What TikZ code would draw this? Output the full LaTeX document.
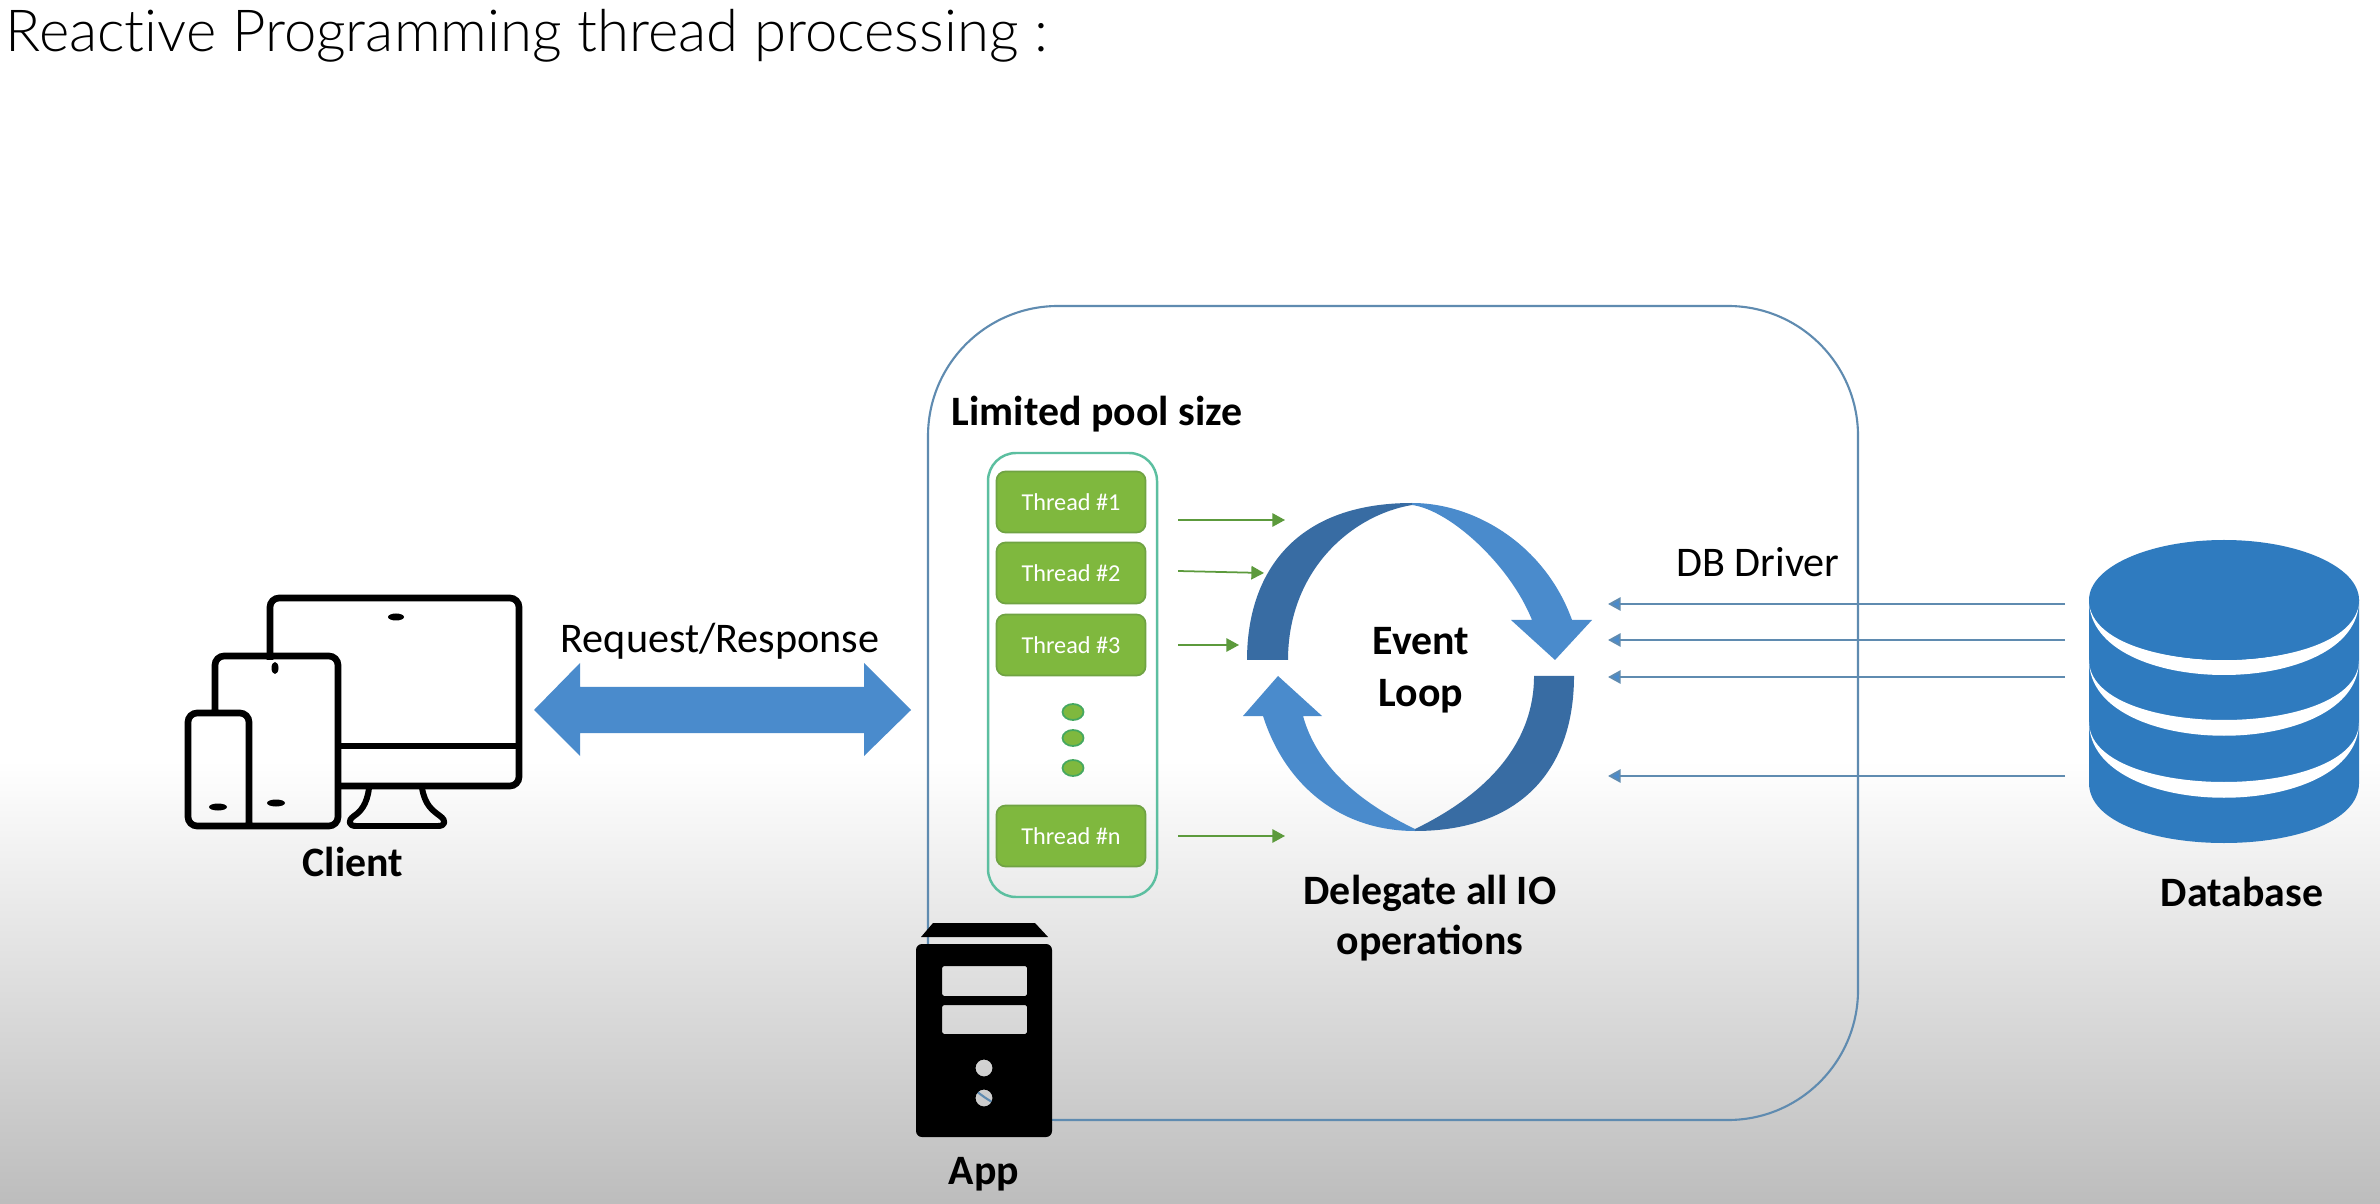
\documentclass[tikz,border=0pt]{standalone}
\usepackage{fontspec}
\setmainfont{Carlito}
\newfontfamily\headfont[Ligatures=NoCommon]{Lato Light}
\usepackage{xcolor}
\usetikzlibrary{arrows.meta}
\definecolor{boxline}{HTML}{5F8BB0}
\definecolor{arrowblue}{HTML}{4A8BCC}
\definecolor{darkblue}{HTML}{386CA3}
\definecolor{dbblue}{HTML}{2F7BBF}
\definecolor{threadgreen}{HTML}{7FB83E}
\definecolor{threadline}{HTML}{70A343}
\definecolor{poolline}{HTML}{5CBFA0}
\definecolor{dotline}{HTML}{45A860}
\definecolor{tipgreen}{HTML}{5C9A3C}
\tikzset{
  plainlabel/.style={font=\fontsize{12}{14}\selectfont, inner sep=0pt},
  boldlabel/.style={font=\fontsize{11.9}{14.3}\selectfont\bfseries, inner sep=0pt, align=center},
  threadbox/.style={draw=threadline, line width=0.5pt, fill=threadgreen, rounded corners=2.6pt, minimum width=1.49cm, minimum height=0.61cm, inner sep=0pt, text=white, font=\fontsize{6.9}{8}\selectfont},
  threaddot/.style={draw=dotline, line width=0.5pt, fill=threadgreen},
  greenarrow/.style={draw=tipgreen, line width=0.5pt, -{Triangle[length=3.6pt,width=3.8pt]}},
  bluearrow/.style={draw=boxline, line width=0.55pt, -{Triangle[length=3.6pt,width=3.8pt,fill=arrowblue]}},
  device/.style={draw=black, line width=1.9pt, rounded corners=2.6pt},
}
\begin{document}
\begin{tikzpicture}[x=0.01cm,y=-0.01cm]
\useasboundingbox (0,0) rectangle (2380,1204);
% background
\fill[white] (0,0) rectangle (2380,761);
\shade[top color=white, bottom color=black!26] (0,760) rectangle (2380,1204);
\node[font=\fontsize{16.5}{20}\selectfont\headfont, inner sep=0pt, anchor=west] (title) at (5,36) {Reactive Programming thread processing :};
% app box
\draw[draw=boxline, line width=0.6pt, rounded corners=1.3cm] (928,306) rectangle (1858,1120);
\node[boldlabel] (poollabel) at (1097,414) {Limited pool size};
% client
\draw[device] (270,660) -- (270,598) -- (519,598) -- (519,786) -- (338,786);
\draw[device, rounded corners=0pt] (338,746) -- (519,746);
\draw[device] (215,716) -- (215,656) -- (338,656) -- (338,826) -- (188,826) -- (188,713) -- (249,713) -- (249,826);
\draw[device, rounded corners=0pt, line width=1.7pt, line join=round] (369,788) .. controls (367,805) and (360,812) .. (354,816) .. controls (347,821) and (349,826) .. (356,826) -- (438,826) .. controls (445,826) and (447,821) .. (440,816) .. controls (432,810) and (425,805) .. (422,788);
\fill[black] (396,617) ellipse [x radius=8, y radius=3.5];
\fill[black] (275,668) ellipse [x radius=3.5, y radius=6];
\fill[black] (276,803) ellipse [x radius=9, y radius=3.5];
\fill[black] (218,807) ellipse [x radius=9, y radius=3.5];
\node[boldlabel] (client) at (353,862) {Client};
% request arrow
\fill[arrowblue] (534,710) -- (580,663) -- (580,687) -- (864,687) -- (864,663) -- (911,710) -- (864,756) -- (864,733) -- (580,733) -- (580,756) -- cycle;
\node[plainlabel] (reqlabel) at (720,641) {Request/Response};
% thread pool
\draw[draw=poolline, line width=0.7pt, rounded corners=0.28cm] (988,453) rectangle (1157,897);
\node[threadbox] (th1) at (1071,502) {Thread \#1};
\node[threadbox] (th2) at (1071,573) {Thread \#2};
\node[threadbox] (th3) at (1071,645) {Thread \#3};
\node[threadbox] (thn) at (1071,836) {Thread \#n};
\filldraw[threaddot] (1073,712) ellipse [x radius=10.5, y radius=8];
\filldraw[threaddot] (1073,738) ellipse [x radius=10.5, y radius=8];
\filldraw[threaddot] (1073,768) ellipse [x radius=10.5, y radius=8];
\coordinate (a1) at (1178,520);
\coordinate (b1) at (1285,520);
\coordinate (a2) at (1178,571);
\coordinate (b2) at (1264,573);
\coordinate (a3) at (1178,645);
\coordinate (b3) at (1239,645);
\coordinate (an) at (1178,836);
\coordinate (bn) at (1285,836);
\draw[greenarrow] (a1) -- (b1);
\draw[greenarrow] (a2) -- (b2);
\draw[greenarrow] (a3) -- (b3);
\draw[greenarrow] (an) -- (bn);
% event loop
\fill[darkblue] (1247,660) .. controls (1247,576) and (1292,503) .. (1412,503) -- (1412,505) .. controls (1352,515) and (1288,570) .. (1288,660) -- cycle;
\fill[arrowblue] (1412,503) .. controls (1475,503) and (1545,545) .. (1572,620) -- (1592,620) -- (1555,660) -- (1511,620) -- (1532,620) .. controls (1510,565) and (1450,510) .. (1412,505) -- cycle;
\fill[darkblue] (1574,676) .. controls (1574,770) and (1520,831) .. (1415,831) -- (1415,829) .. controls (1485,795) and (1534,745) .. (1534,676) -- cycle;
\fill[arrowblue] (1415,831) .. controls (1340,831) and (1285,785) .. (1263,716) -- (1243,716) -- (1278,676) -- (1322,716) -- (1303,716) .. controls (1318,770) and (1365,805) .. (1415,829) -- cycle;
\node[boldlabel, font=\fontsize{11.9}{14.7}\selectfont\bfseries] (looplabel) at (1421,670) {Event\\Loop};
\node[boldlabel] (iolabel) at (1430,918) {Delegate all IO\\operations};
% database
\fill[dbblue] (2089,600) -- (2089,783) .. controls (2089,863) and (2359,863) .. (2359,783) -- (2359,600) -- cycle;
\fill[white] (2089,600) .. controls (2089,700) and (2359,700) .. (2359,600) .. controls (2359,680) and (2089,680) .. (2089,600);
\fill[white] (2089,660) .. controls (2089,761) and (2359,761) .. (2359,660) .. controls (2359,740) and (2089,740) .. (2089,660);
\fill[white] (2089,722) .. controls (2089,823) and (2359,823) .. (2359,722) .. controls (2359,802) and (2089,802) .. (2089,722);
\fill[dbblue] (2224,600) ellipse [x radius=135, y radius=60];
\node[boldlabel] (dblabel) at (2242,892) {Database};
\node[plainlabel] (driverlabel) at (1758,562) {DB Driver};
\coordinate (d1) at (2065,604);
\coordinate (e1) at (1608,604);
\coordinate (d2) at (2065,640);
\coordinate (e2) at (1608,640);
\coordinate (d3) at (2065,677);
\coordinate (e3) at (1608,677);
\coordinate (d4) at (2065,776);
\coordinate (e4) at (1608,776);
\draw[bluearrow] (d1) -- (e1);
\draw[bluearrow] (d2) -- (e2);
\draw[bluearrow] (d3) -- (e3);
\draw[bluearrow] (d4) -- (e4);
% app server
\fill[black] (933,923) -- (1035,923) -- (1048,937) -- (921,937) -- cycle;
\fill[black, even odd rule] [rounded corners=1.7pt] (916,944) rectangle (1052,1137) [rounded corners=0.5pt] (942,966) rectangle (1027,996) (942,1005) rectangle (1027,1034) [sharp corners] (984,1068) circle (8.5) (984,1098) circle (8.5);
\node[boldlabel] (applabel) at (984,1174) {App};
\end{tikzpicture}
\end{document}
